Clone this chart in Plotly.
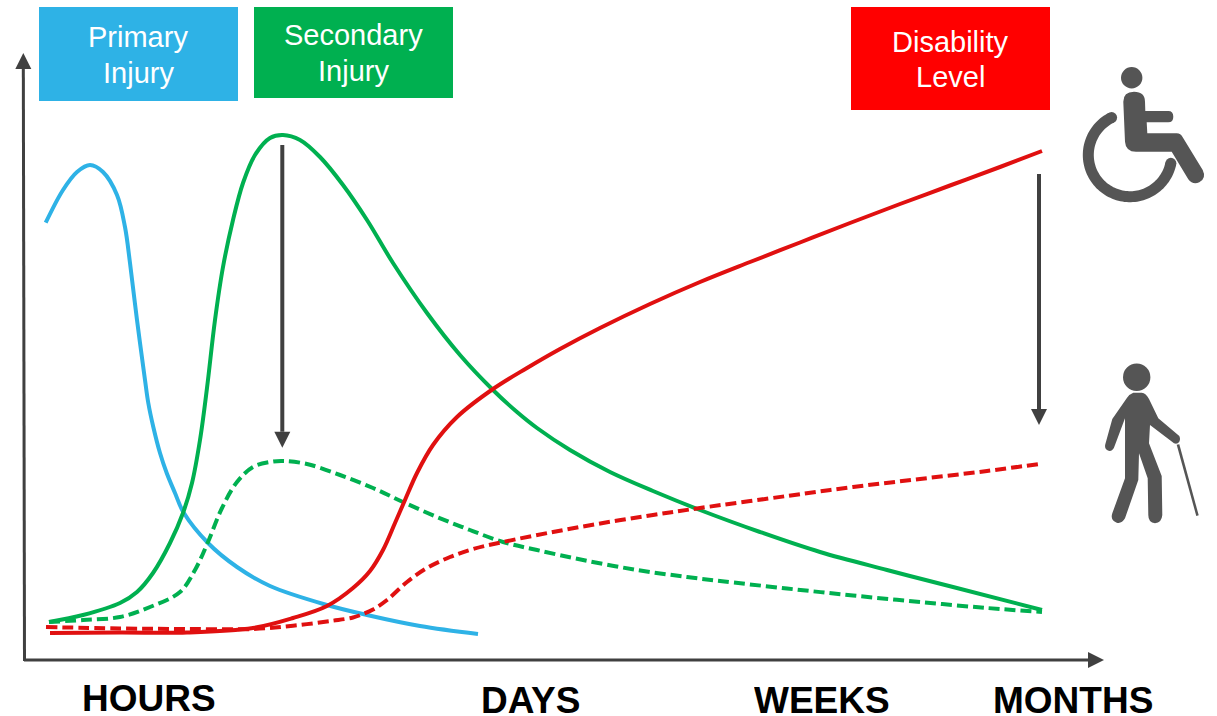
import math
import plotly.graph_objects as go

W, H = 1217, 716
FONT = "Liberation Sans"
DARK = "#404040"
ICON = "#555555"
BLUE = "#2EB2E6"
GREEN = "#00B050"
RED = "#E01010"

primary_x = [45.7, 63, 77, 90, 103, 117, 125, 130, 137, 145, 148.3, 153.3, 160, 166.7, 175, 183.3, 208, 237, 270, 327, 367, 420, 478]
primary_y = [222.7, 190, 172, 165, 172, 195, 227, 263, 320, 380, 403, 427, 453, 473, 493, 512, 543, 567, 586, 605, 615, 626, 634]

secondary_x = [49, 83, 120, 137, 153, 170, 183, 192, 200, 207, 215, 223, 233, 243, 255, 270, 283, 300, 320, 343, 367, 393, 427, 460, 493, 517, 537, 570, 610, 653, 700, 760, 820, 887, 953, 1042]
secondary_y = [622, 615, 603, 592, 573, 543, 513, 483, 440, 388, 320, 267, 220, 183, 155, 138, 135, 140, 157, 185, 220, 263, 313, 355, 390, 412, 428, 450, 472, 491, 510, 532, 552, 570, 587, 610]

secondary_tx_x = [49, 83, 120, 150, 180, 195, 208, 222, 237, 253, 270, 283, 307, 340, 373, 403, 437, 470, 503, 537, 583, 637, 687, 720, 787, 853, 920, 987, 1042]
secondary_tx_y = [622, 620, 617, 607, 592, 570, 542, 508, 482, 467, 462, 461, 464, 475, 488, 502, 517, 530, 542, 550, 560, 570, 577, 581, 588.5, 595.5, 602, 608, 612]

disability_x = [50, 120, 187, 253, 293, 327, 353, 370, 383, 395, 405, 417, 433, 457, 493, 527, 560, 600, 650, 700, 750, 800, 850, 900, 950, 1000, 1042]
disability_y = [633, 632.5, 632.5, 628, 618, 606, 588, 571, 550, 523, 500, 473, 445, 417, 389, 368, 349, 328, 304, 282, 262, 242.5, 223, 204, 185.5, 167, 151]

disability_tx_x = [46, 120, 187, 253, 293, 333, 353, 363, 373, 387, 407, 427, 450, 473, 503, 553, 603, 653, 700, 787, 853, 920, 987, 1039]
disability_tx_y = [627, 628.5, 629, 629, 625.7, 620.7, 617.5, 614, 609.5, 600, 582, 568, 557, 549, 542, 532, 523, 515, 508, 496, 487, 479, 471, 464]

box_labels = [("Primary", 138, 37), ("Injury", 138, 73), ("Secondary", 353.5, 35), ("Injury", 353.5, 71), ("Disability", 950, 42), ("Level", 950, 77)]
time_labels = [("HOURS", 149, 698), ("DAYS", 530, 700), ("WEEKS", 822, 700), ("MONTHS", 1073, 700)]

fig = go.Figure()


def curve(x, y, color, dash, name):
    fig.add_trace(go.Scatter(x=x, y=y, mode="lines", name=name, hoverinfo="skip",
                             line=dict(color=color, width=4, dash=dash, shape="spline", smoothing=1.0)))


curve(primary_x, primary_y, BLUE, "solid", "Primary injury")
curve(secondary_x, secondary_y, GREEN, "solid", "Secondary injury")
curve(secondary_tx_x, secondary_tx_y, GREEN, "11px,5px", "Secondary injury, treated")
curve(disability_x, disability_y, RED, "solid", "Disability level")
curve(disability_tx_x, disability_tx_y, RED, "11px,5px", "Disability level, treated")

shapes = []


def rect(x0, y0, x1, y1, color):
    shapes.append(dict(type="rect", xref="x", yref="y", x0=x0, y0=y0, x1=x1, y1=y1,
                       fillcolor=color, line_width=0, layer="below"))


rect(39, 7, 238, 101, BLUE)
rect(254, 7, 453, 98, GREEN)
rect(851, 7, 1050, 110, "#FF0000")


def circle(cx, cy, r):
    shapes.append(dict(type="circle", xref="x", yref="y", x0=cx - r, y0=cy - r, x1=cx + r, y1=cy + r,
                       fillcolor=ICON, line_width=0))


def filled(d, color=ICON):
    shapes.append(dict(type="path", xref="x", yref="y", path=d, fillcolor=color, line_width=0))


def outline(points, ox, oy):
    """Closed path; a 3-item point is a curve control, its next point the curve end."""
    conv = [(ox + p[0] / 3, oy + p[1] / 3, len(p) == 3) for p in points]
    d = f"M {conv[0][0]:.1f},{conv[0][1]:.1f}"
    i = 1
    while i < len(conv):
        a, b, ctrl = conv[i]
        if ctrl:
            c, e, _ = conv[i + 1]
            d += f" Q {a:.1f},{b:.1f} {c:.1f},{e:.1f}"
            i += 2
        else:
            d += f" L {a:.1f},{b:.1f}"
            i += 1
    return d + " Z"


# wheelchair icon
circle(1131.7, 77.7, 10.7)
cx, cy, R, hw = 1130.0, 155.0, 41.7, 5.5
a0 = math.atan2(-112, -55)
a1 = math.atan2(25, 123) - 2 * math.pi
steps = 90
angles = [a0 + (a1 - a0) * i / steps for i in range(steps + 1)]
ring = [(cx + (R + hw) * math.cos(a), cy + (R + hw) * math.sin(a)) for a in angles]
ring += [(cx + (R - hw) * math.cos(a), cy + (R - hw) * math.sin(a)) for a in reversed(angles)]
filled("M " + " L ".join(f"{a:.2f},{b:.2f}" for a, b in ring) + " Z")
for a in (a0, a1):
    circle(cx + R * math.cos(a), cy + R * math.sin(a), hw)
filled(outline([(190, 155), (190, 125, 1), (222, 125), (255, 125, 1), (255, 155), (256, 183), (325, 183),
                (340, 183, 1), (340, 200), (340, 217, 1), (325, 217), (260, 217), (262, 250), (350, 250),
                (362, 250, 1), (368, 262), (428, 360), (440, 385, 1), (418, 397), (398, 405, 1), (385, 388),
                (335, 305), (228, 305), (197, 305, 1), (195, 275)], 1060, 50))

# walking-stick icon
circle(1136.7, 377.3, 13.7)
filled(outline([(160, 128), (185, 128), (198, 130, 1), (207, 147), (235, 205), (298, 258), (302, 268, 1), (298, 275),
                (292, 284, 1), (282, 280), (210, 225), (207, 280), (245, 378), (247, 495), (245, 518, 1), (225, 520),
                (205, 518, 1), (205, 495), (203, 385), (177, 310), (175, 390), (135, 505), (125, 522, 1), (110, 518),
                (90, 510, 1), (97, 490), (135, 385), (135, 205), (105, 285), (100, 303, 1), (88, 303), (72, 300, 1),
                (76, 283), (97, 207), (140, 145), (148, 132, 1), (160, 128)], 1080, 350))
filled(outline([(290, 284), (298, 283), (356, 496), (349, 498)], 1080, 350))


def arrow(x0, y0, x1, y1, width):
    """Shaft from (x0,y0) to (x1,y1) ending in a filled triangular head 16 px wide and long."""
    length = math.hypot(x1 - x0, y1 - y0)
    ux, uy = (x1 - x0) / length, (y1 - y0) / length
    bx, by = x1 - 16 * ux, y1 - 16 * uy
    shapes.append(dict(type="line", xref="x", yref="y", x0=x0, y0=y0, x1=bx, y1=by,
                       line=dict(color=DARK, width=width)))
    filled(f"M {x1},{y1} L {bx - 8 * uy:.1f},{by + 8 * ux:.1f} L {bx + 8 * uy:.1f},{by - 8 * ux:.1f} Z", DARK)


arrow(24.5, 661, 23.3, 53, 3)
arrow(24, 660, 1104, 660, 3)
arrow(282.3, 145, 282.3, 447.7, 4)
arrow(1039, 174, 1039, 425, 4)

annotations = []
for text, x, y in box_labels:
    annotations.append(dict(x=x, y=y, xref="x", yref="y", text=text, showarrow=False,
                            font=dict(family=FONT, size=29, color="white")))
for text, x, y in time_labels:
    annotations.append(dict(x=x, y=y, xref="x", yref="y", text=text, showarrow=False, height=30,
                            font=dict(family=FONT, size=37, color="black", weight="bold")))

fig.update_layout(
    width=W, height=H, margin=dict(l=0, r=0, t=0, b=0), showlegend=False,
    paper_bgcolor="white", plot_bgcolor="white", shapes=shapes, annotations=annotations,
    xaxis=dict(range=[0, W], visible=False, fixedrange=True),
    yaxis=dict(range=[H, 0], visible=False, fixedrange=True),
)
fig.write_html("out.html", config=dict(displayModeBar=False),
               post_script="document.body.style.margin='0';document.documentElement.style.overflow='hidden';")
